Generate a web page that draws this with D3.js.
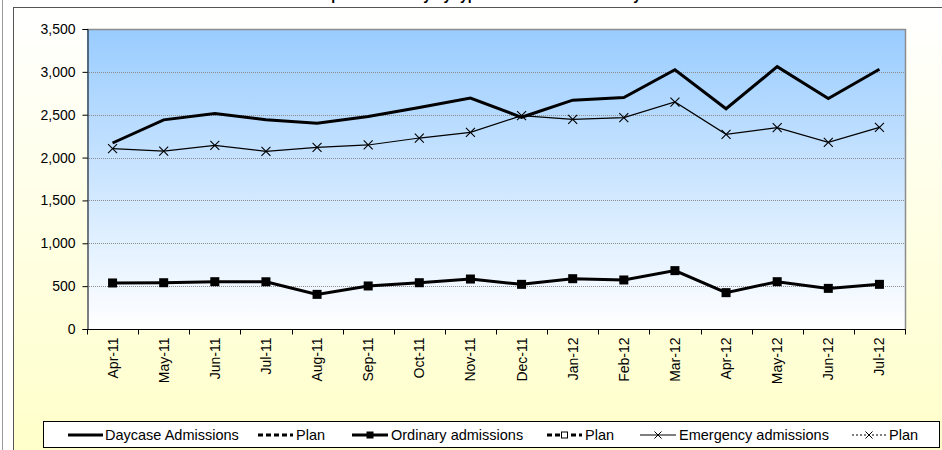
<!DOCTYPE html>
<html><head><meta charset="utf-8">
<script src="https://cdn.jsdelivr.net/npm/d3@7/dist/d3.min.js"></script>
<style>html,body{margin:0;padding:0;background:#fff;}svg{display:block;font-family:Arial,"Liberation Sans",sans-serif;}</style>
</head><body>
<svg id="c" width="942" height="450"></svg>
<script>
const months = ["Apr-11","May-11","Jun-11","Jul-11","Aug-11","Sep-11","Oct-11","Nov-11","Dec-11","Jan-12","Feb-12","Mar-12","Apr-12","May-12","Jun-12","Jul-12"];
const daycase = [2170,2440,2515,2440,2400,2480,2585,2695,2470,2670,2700,3025,2570,3060,2690,3030];
const ordinary = [537,540,552,551,404,502,540,583,521,587,572,681,424,552,474,521];
const emergency = [2105,2075,2143,2073,2120,2147,2228,2295,2489,2446,2466,2648,2271,2350,2178,2353];
const yTicks = [0,500,1000,1500,2000,2500,3000,3500];
const legendItems = ["Daycase Admissions","Plan","Ordinary admissions","Plan","Emergency admissions","Plan"];
const title = "Inpatient Activity by type of admission - monthly";

const svg = d3.select("#c");
const defs = svg.append("defs");
const g1 = defs.append("linearGradient").attr("id","bgArea").attr("x1",0).attr("y1",0).attr("x2",0).attr("y2",1);
g1.append("stop").attr("offset","0%").attr("stop-color","#ffffff");
g1.append("stop").attr("offset","100%").attr("stop-color","#ffffc8");
const g2 = defs.append("linearGradient").attr("id","bgPlot").attr("x1",0).attr("y1",0).attr("x2",0).attr("y2",1);
g2.append("stop").attr("offset","0%").attr("stop-color","#99ccff");
g2.append("stop").attr("offset","100%").attr("stop-color","#ffffff");

// outer area
svg.append("line").attr("x1",2.5).attr("x2",2.5).attr("y1",0).attr("y2",450).attr("stroke","#9a9a9a").attr("stroke-width",1);
svg.append("rect").attr("x",13.5).attr("y",7.5).attr("width",940).attr("height",460).attr("fill","url(#bgArea)").attr("stroke","#555").attr("stroke-width",1);

// title (cut off at the top edge, as in the reference)
svg.append("text").attr("x",480).attr("y",-0.5).attr("text-anchor","middle").attr("font-weight","bold").attr("font-size",14).text(title);

const L = 87, R = 905, T = 29, B = 329;
const x = d3.scaleBand().domain(months).range([L,R]);
const y = d3.scaleLinear().domain([0,3500]).range([B,T]);

svg.append("rect").attr("x",L).attr("y",T).attr("width",R-L).attr("height",B-T).attr("fill","url(#bgPlot)");
// grid
svg.append("g").selectAll("line").data(yTicks.filter(d=>d>0 && d<3500)).join("line")
  .attr("x1",L).attr("x2",R).attr("y1",d=>Math.round(y(d))+0.5).attr("y2",d=>Math.round(y(d))+0.5)
  .attr("stroke","#8c8c8c").attr("stroke-width",1).attr("stroke-dasharray","1,1");
// plot border top/right
svg.append("path").attr("d",`M${L},${T+0.5}H${R+0.5}V${B}`).attr("fill","none").attr("stroke","#8c8c8c").attr("stroke-width",1.5);

// y axis
const yAxis = d3.axisLeft(y).tickValues(yTicks).tickSize(5).tickPadding(7).tickFormat(d3.format(","));
const ya = svg.append("g").attr("transform",`translate(${L+0.5},0)`).call(yAxis);
ya.select(".domain").attr("stroke","#000");
ya.selectAll("text").attr("font-size",14).attr("font-family","Arial, 'Liberation Sans', sans-serif").attr("fill","#000");

// x axis
const xa = svg.append("g").attr("transform",`translate(0,${B+0.5})`);
xa.append("line").attr("x1",L).attr("x2",R+1).attr("stroke","#000");
const bounds = months.map(m=>x(m)).concat([R]);
xa.selectAll("line.tk").data(bounds).join("line").attr("class","tk")
  .attr("x1",d=>Math.round(d)+0.5).attr("x2",d=>Math.round(d)+0.5).attr("y1",0).attr("y2",5).attr("stroke","#000");
xa.selectAll("text").data(months).join("text")
  .attr("transform",d=>`translate(${x(d)+x.bandwidth()/2+5},8) rotate(-90)`)
  .attr("text-anchor","end").attr("font-size",14).text(d=>d);

const cx = (d,i)=>x(months[i])+x.bandwidth()/2;
const line = d3.line().x((d,i)=>cx(d,i)).y(d=>y(d));

svg.append("path").datum(daycase).attr("d",line).attr("fill","none").attr("stroke","#000").attr("stroke-width",3).attr("stroke-linejoin","miter");
svg.append("path").datum(emergency).attr("d",line).attr("fill","none").attr("stroke","#000").attr("stroke-width",1.2);
svg.append("g").selectAll("path").data(emergency).join("path")
  .attr("d",(d,i)=>{const X=cx(d,i),Y=y(d),s=4.5;return `M${X-s},${Y-s}L${X+s},${Y+s}M${X-s},${Y+s}L${X+s},${Y-s}`;})
  .attr("stroke","#000").attr("stroke-width",1.1);
svg.append("path").datum(ordinary).attr("d",line).attr("fill","none").attr("stroke","#000").attr("stroke-width",3);
svg.append("g").selectAll("rect").data(ordinary).join("rect")
  .attr("x",(d,i)=>cx(d,i)-4.5).attr("y",d=>y(d)-4.5).attr("width",9).attr("height",9).attr("fill","#000");

// legend
const lg = svg.append("g");
lg.append("rect").attr("x",43.5).attr("y",421.5).attr("width",896).attr("height",26).attr("fill","#fff").attr("stroke","#000");
const ly = 435;
const legendPos = [
  {x1:68,x2:103,tx:105,w:3,dash:null,mark:null},
  {x1:258,x2:293,tx:296,w:3,dash:"5,3",mark:null},
  {x1:352,x2:388,tx:391,w:3,dash:null,mark:"sq"},
  {x1:547,x2:582,tx:585,w:3,dash:"5,3",mark:"osq"},
  {x1:640,x2:676,tx:679,w:1.2,dash:null,mark:"x"},
  {x1:852,x2:886,tx:889,w:1,dash:"2,2",mark:"x"}
];
legendPos.forEach((p,i)=>{
  lg.append("line").attr("x1",p.x1).attr("x2",p.x2).attr("y1",ly).attr("y2",ly).attr("stroke","#000").attr("stroke-width",p.w).attr("stroke-dasharray",p.dash);
  const mx=(p.x1+p.x2)/2;
  if(p.mark==="sq") lg.append("rect").attr("x",mx-3.5).attr("y",ly-3.5).attr("width",7).attr("height",7).attr("fill","#000");
  if(p.mark==="osq") lg.append("rect").attr("x",mx-3).attr("y",ly-3).attr("width",6).attr("height",6).attr("fill","#fff").attr("stroke","#000").attr("stroke-width",1);
  if(p.mark==="x") lg.append("path").attr("d",`M${mx-3.5},${ly-3.5}L${mx+3.5},${ly+3.5}M${mx-3.5},${ly+3.5}L${mx+3.5},${ly-3.5}`).attr("stroke","#000").attr("stroke-width",1);
  lg.append("text").attr("x",p.tx).attr("y",ly+5).attr("font-size",14.5).text(legendItems[i]);
});
</script>
</body></html>
